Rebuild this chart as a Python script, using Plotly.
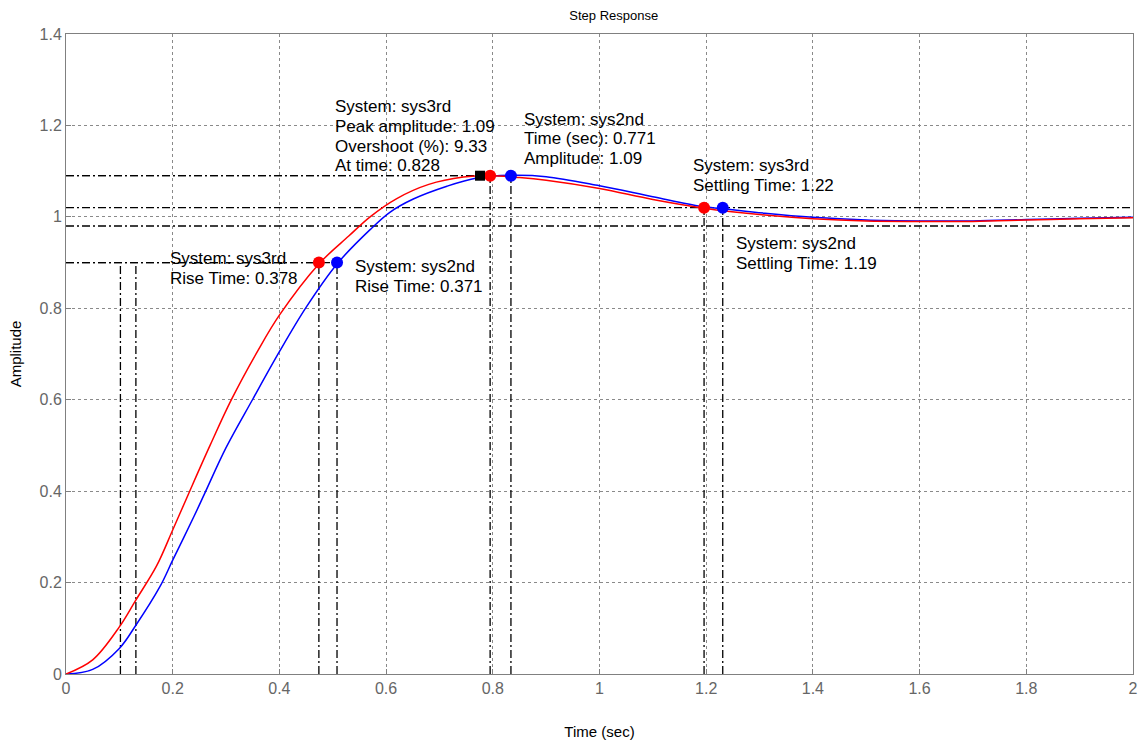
import plotly.graph_objects as go

# ---- data ----
t_sys3rd = [0, 0.05, 0.10, 0.13, 0.17, 0.20, 0.23, 0.27, 0.31, 0.36, 0.40, 0.474, 0.53, 0.57, 0.62, 0.68,
            0.745, 0.795, 0.85, 0.90, 1.00, 1.10, 1.196, 1.30, 1.40, 1.50, 1.60, 1.70, 1.80, 1.90, 2.00]
y_sys3rd = [0, 0.031, 0.103, 0.160, 0.237, 0.315, 0.395, 0.500, 0.600, 0.708, 0.785, 0.897, 0.958, 1.000,
            1.040, 1.071, 1.087, 1.090, 1.086, 1.080, 1.062, 1.038, 1.019, 1.005, 0.996, 0.991, 0.990,
            0.990, 0.993, 0.996, 0.998]

t_sys2nd = [0, 0.05, 0.10, 0.13, 0.176, 0.20, 0.24, 0.26, 0.30, 0.35, 0.40, 0.45, 0.508, 0.57, 0.607, 0.651,
            0.714, 0.77, 0.834, 0.90, 1.00, 1.10, 1.19, 1.231, 1.31, 1.40, 1.50, 1.60, 1.70, 1.80, 1.90, 2.00]
y_sys2nd = [0, 0.010, 0.056, 0.105, 0.191, 0.249, 0.345, 0.395, 0.495, 0.601, 0.705, 0.802, 0.897, 0.972,
            1.010, 1.039, 1.067, 1.085, 1.091, 1.088, 1.068, 1.044, 1.023, 1.018, 1.008, 0.999, 0.993,
            0.991, 0.991, 0.994, 0.997, 0.999]

# characteristic points
rise_t10 = {"sys3rd": 0.102, "sys2nd": 0.131}
rise_t90 = {"sys3rd": 0.474, "sys2nd": 0.508}
rise_level = 0.9
peak_t = {"sys3rd": 0.795, "sys2nd": 0.834}
peak_y = 1.09
settle_t = {"sys3rd": 1.196, "sys2nd": 1.231}
settle_y = 1.02
settle_band = [0.98, 1.02]
cursor_t = 0.776
cursor_y = 1.09

x_ticks = [0, 0.2, 0.4, 0.6, 0.8, 1, 1.2, 1.4, 1.6, 1.8, 2]
x_labels = ["0", "0.2", "0.4", "0.6", "0.8", "1", "1.2", "1.4", "1.6", "1.8", "2"]
y_ticks = [0, 0.2, 0.4, 0.6, 0.8, 1, 1.2, 1.4]
y_labels = ["0", "0.2", "0.4", "0.6", "0.8", "1", "1.2", "1.4"]

colors = {"sys3rd": "#ff0000", "sys2nd": "#0000ff"}
FONT = "Liberation Sans, Arial, sans-serif"
DASHDOT = "8px,3px,2px,3px"

fig = go.Figure()

def seg(x0, y0, x1, y1):
    fig.add_trace(go.Scatter(x=[x0, x1], y=[y0, y1], mode="lines",
                             line=dict(color="black", width=1.3, dash=DASHDOT),
                             hoverinfo="skip", showlegend=False))

for s in ["sys3rd", "sys2nd"]:
    seg(0, rise_level, rise_t90[s], rise_level)
    seg(rise_t10[s], 0, rise_t10[s], rise_level)
    seg(rise_t90[s], 0, rise_t90[s], rise_level)
    seg(0, peak_y, peak_t[s], peak_y)
    seg(peak_t[s], 0, peak_t[s], peak_y)
    seg(settle_t[s], 0, settle_t[s], settle_y)
for b in settle_band:
    seg(0, b, 2, b)

fig.add_trace(go.Scatter(x=t_sys2nd, y=y_sys2nd, mode="lines", name="sys2nd",
                         line=dict(color=colors["sys2nd"], width=1.5, shape="spline", smoothing=1.0)))
fig.add_trace(go.Scatter(x=t_sys3rd, y=y_sys3rd, mode="lines", name="sys3rd",
                         line=dict(color=colors["sys3rd"], width=1.5, shape="spline", smoothing=1.0)))

for s in ["sys3rd", "sys2nd"]:
    fig.add_trace(go.Scatter(
        x=[rise_t90[s], peak_t[s], settle_t[s]],
        y=[rise_level, peak_y, settle_y],
        mode="markers", marker=dict(color=colors[s], size=12, symbol="circle"),
        showlegend=False, hoverinfo="skip"))
fig.add_trace(go.Scatter(x=[cursor_t], y=[cursor_y], mode="markers",
                         marker=dict(color="black", size=10, symbol="square"),
                         showlegend=False, hoverinfo="skip"))

# datatip texts: (x, y of first line centre, lines)
notes = [
    (0.500, 1.241, ["System: sys3rd", "Peak amplitude: 1.09", "Overshoot (%): 9.33", "At time: 0.828"]),
    (0.855, 1.214, ["System: sys2nd", "Time (sec): 0.771", "Amplitude: 1.09"]),
    (1.171, 1.112, ["System: sys3rd", "Settling Time: 1.22"]),
    (1.252, 0.941, ["System: sys2nd", "Settling Time: 1.19"]),
    (0.191, 0.908, ["System: sys3rd", "Rise Time: 0.378"]),
    (0.538, 0.891, ["System: sys2nd", "Rise Time: 0.371"]),
]
LINE_STEP = 19.7 / 457
for x, y, lines in notes:
    for i, txt in enumerate(lines):
        fig.add_annotation(x=x, y=y - i * LINE_STEP, xref="x", yref="y", text=txt, showarrow=False,
                           xanchor="left", yanchor="middle", align="left",
                           font=dict(family=FONT, size=17, color="black"))

axis_common = dict(showline=True, linecolor="#808080", linewidth=1, mirror=True,
                   showgrid=True, gridcolor="#8a8a8a", gridwidth=1, griddash="3px,3px",
                   ticks="inside", ticklen=5, tickcolor="#808080",
                   tickfont=dict(family=FONT, size=16, color="#666666"),
                   zeroline=False, automargin=False)

fig.update_layout(
    width=1143, height=743,
    margin=dict(l=66, r=10, t=34, b=69, autoexpand=False),
    paper_bgcolor="white", plot_bgcolor="white",
    showlegend=False,
    title=dict(text="Step Response", x=0.537, xanchor="center", y=1 - 15 / 743, yanchor="middle",
               yref="container", automargin=False, font=dict(family=FONT, size=13, color="black")),
    xaxis=dict(range=[0, 2], tickvals=x_ticks, ticktext=x_labels,
               title=dict(text="Time (sec)", font=dict(family=FONT, size=15, color="black"), standoff=30),
               **axis_common),
    yaxis=dict(range=[0, 1.4], tickvals=y_ticks, ticktext=y_labels,
               title=dict(text="Amplitude", font=dict(family=FONT, size=15, color="black"), standoff=14),
               **axis_common),
)

fig.write_html("out.html", config={"displayModeBar": False},
               post_script="document.body.style.margin='0';document.body.style.overflow='hidden';")
